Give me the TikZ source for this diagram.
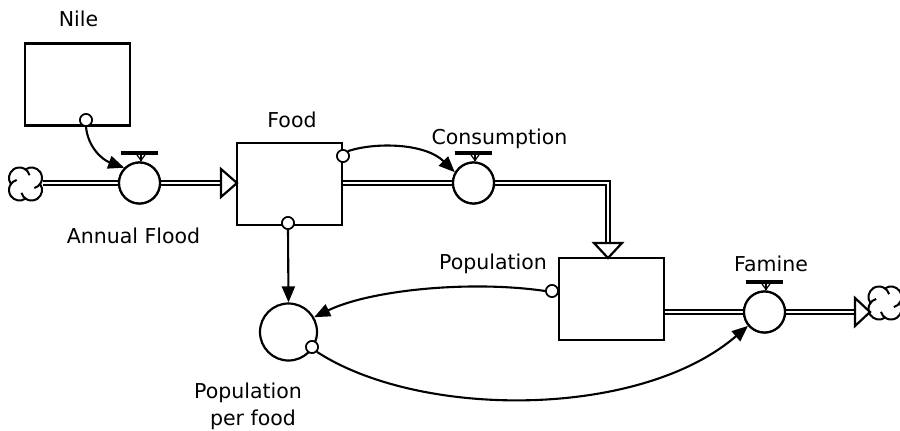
\documentclass[tikz,border=0pt]{standalone}
\usepackage{fontspec}
\setmainfont{DejaVu Sans}
\usetikzlibrary{arrows.meta,calc}
\begin{document}
\begin{tikzpicture}[x=1pt,y=-1pt,
  stockbox/.style={draw,line width=2.2,minimum width=105,minimum height=82,inner sep=0},
  valve/.style={draw,circle,line width=2.2,minimum size=41,inner sep=0,fill=white},
  aux/.style={draw,circle,line width=2.2,minimum size=57,inner sep=0},
  dot/.style={draw,circle,line width=1.6,minimum size=12,inner sep=0,fill=white},
  cloudhold/.style={inner sep=0,minimum size=35},
  lobe/.style={line width=2},
  pipe/.style={double=white,double distance=2.4,line width=2.2},
  hollow/.style={draw,line width=2.2,fill=white,line join=miter},
  conn/.style={line width=2.1,-{Triangle[length=16,width=13]}},
  lbl/.style={font=\fontsize{20.5}{27}\selectfont,anchor=base,inner sep=0},
  bar/.style={line width=3.2},
  stem/.style={line width=2}]
\useasboundingbox (0,0) rectangle (900,431);
% stocks
\node[stockbox] (nile) at (77.5,84.5) {};
\node[stockbox] (food) at (289.5,184) {};
\node[stockbox] (pop) at (611.5,299) {};
% clouds
\node[cloudhold] (cl) at (25.5,184) {};
\node[cloudhold] (cr) at (885,303) {};
\foreach \c in {cl,cr}{
  \foreach \a in {45,135,225,315}{
    \draw[lobe] ($(\c)+(\a:8.5)+(\a-79.5:10.5)$) arc[start angle=\a-79.5, end angle=\a+119.5, radius=10.5];
  }
}
% auxiliary
\node[aux] (ppf) at (288.5,332) {};
% pipes
\coordinate (afend) at (221,183);
\coordinate (cbend) at (608,183);
\coordinate (cnend) at (608,243);
\coordinate (fmend) at (855,312);
\node[valve] (af) at (139.5,183) {};
\node[valve] (cons) at (473.5,183) {};
\node[valve] (fam) at (764.5,312) {};
\draw[pipe] (cl.east |- af) -- (af.west);
\draw[pipe] (af.east) -- (afend);
\draw[hollow] (afend) ++(0,-14) -- ++(16,14) -- ++(-16,14) -- cycle;
\draw[pipe] (food.east |- cons) -- (cons.west);
\draw[pipe] (cons.east) -- (cbend) -- (cnend);
\draw[hollow] (cnend) ++(-14,0) -- ++(14,15) -- ++(14,-15) -- cycle;
\draw[pipe] (pop.east |- fam) -- (fam.west);
\draw[pipe] (fam.east) -- (fmend);
\draw[hollow] (fmend) ++(0,-14) -- ++(15,14) -- ++(-15,14) -- cycle;
\node[valve] at (af) {};
\node[valve] at (cons) {};
\node[valve] at (fam) {};
% valve handles
\foreach \v in {af,cons,fam}{
  \draw[bar] ([shift={(-19,-8.5)}]\v.north) -- ([shift={(18,-8.5)}]\v.north);
  \draw[stem] ([shift={(1.5,-7)}]\v.north) -- ([shift={(1.5,0)}]\v.north);
  \draw[line width=1.2] ([shift={(-2.5,-6.5)}]\v.north) -- ([shift={(1.5,-1)}]\v.north) -- ([shift={(5.5,-6.5)}]\v.north);
}
% connector dots
\node[dot] (nd) at (86,120) {};
\node[dot] (fd1) at (343,156) {};
\node[dot] (fd2) at (288,223) {};
\node[dot] (pd) at (552,291) {};
\node[dot] (ad) at (312,347) {};
% connectors
\draw[conn] (nd.south) .. controls (88,148) and (103,160) .. (af.135);
\draw[conn] (fd1.north east) .. controls (375,142) and (425,143) .. (cons.150);
\draw[conn] (fd2.south) -- (ppf.north);
\draw[conn] (pd.west) .. controls (470,280) and (370,290) .. (ppf.30);
\draw[conn] (ad.south east) .. controls (420,419) and (640,419) .. (fam.220);
\node[dot] at (nd) {};
\node[dot] at (fd1) {};
\node[dot] at (fd2) {};
\node[dot] at (pd) {};
\node[dot] at (ad) {};
% labels
\node[lbl] (tnile) at (78.5,26) {Nile};
\node[lbl] (taf) at (133.5,243) {Annual Flood};
\node[lbl] (tfood) at (292,127) {Food};
\node[lbl] (tcons) at (499.5,144) {Consumption};
\node[lbl] (tpop) at (493,269) {Population};
\node[lbl] (tfam) at (771,271) {Famine};
\node[lbl] (tppf1) at (248,398) {Population};
\node[lbl] (tppf2) at (253,425) {per food};
\end{tikzpicture}
\end{document}
